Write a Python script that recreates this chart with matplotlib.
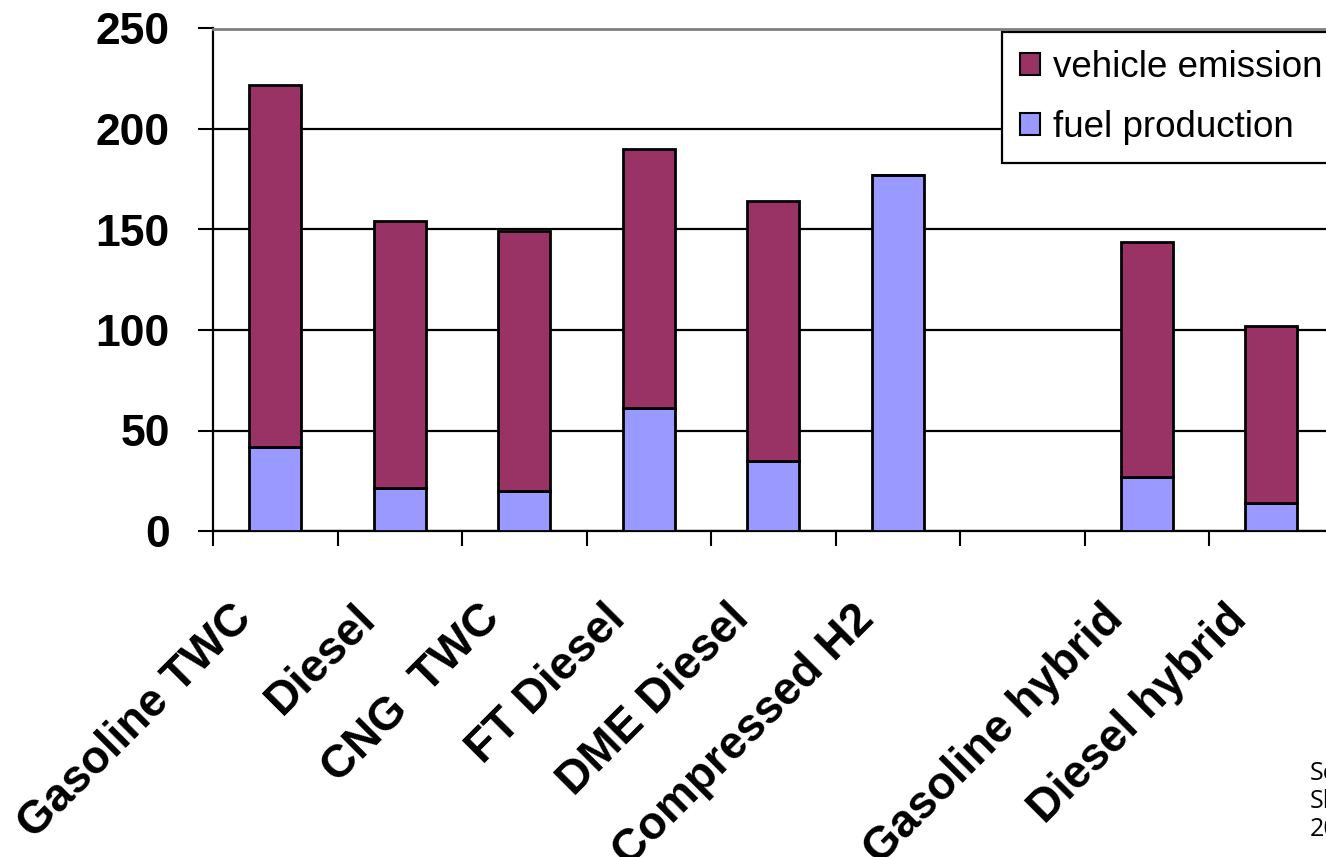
import matplotlib
matplotlib.use("Agg")
import matplotlib.pyplot as plt
import matplotlib.patches as mpatches
from matplotlib.transforms import ScaledTranslation
import numpy as np

# data
categories = ["Gasoline TWC", "Diesel", "CNG  TWC", "FT Diesel", "DME Diesel",
              "Compressed H2", "", "Gasoline hybrid", "Diesel hybrid"]
fuel_production = [42, 21.5, 20, 61, 35, 177, 0, 27, 14]
vehicle_emissions = [180, 132.5, 129.5, 129, 129, 0, 0, 117, 88]
yticks = [0, 50, 100, 150, 200, 250]
source_lines = ["So", "Sh", "20"]  # only this much of the note is visible in the original

c_vehicle = "#993366"
c_fuel = "#9999FF"

W, H = 1326, 857
fig = plt.figure(figsize=(W / 100, H / 100), dpi=100)
ax = fig.add_axes([213 / W, 1 - 531 / H, 1120.5 / W, (531 - 28.5) / H])

x = np.arange(len(categories))
ax.bar(x, fuel_production, width=0.42, color=c_fuel, edgecolor="black", linewidth=2, zorder=3)
ax.bar(x, vehicle_emissions, width=0.42, bottom=fuel_production, color=c_vehicle,
       edgecolor="black", linewidth=2, zorder=3)

ax.set_xlim(-0.5, len(categories) - 0.5)
ax.set_ylim(0, 250)

# y axis
ax.set_yticks(yticks)
ax.set_yticklabels([str(v) for v in yticks], fontsize=32, fontweight="bold", family="Liberation Sans")
ax.tick_params(axis="y", length=11, width=1.5, pad=20, direction="out")
ax.yaxis.grid(True, color="black", linewidth=1.6)
ax.set_axisbelow(True)

# x axis: boundary tick marks, labels at category centres
ax.set_xticks(x)
ax.set_xticks(np.arange(len(categories) + 1) - 0.5, minor=True)
ax.tick_params(axis="x", which="major", length=0, pad=66)
ax.tick_params(axis="x", which="minor", length=11, width=1.5, direction="out")
ax.set_xticklabels(categories, fontsize=33, fontweight="bold", family="Liberation Sans",
                   rotation=45, ha="right", va="baseline", rotation_mode="anchor")
shift = ScaledTranslation(-22 / 100, 2 / 100, fig.dpi_scale_trans)
for lab in ax.get_xticklabels():
    lab.set_transform(lab.get_transform() + shift)

for s in ["left", "bottom"]:
    ax.spines[s].set_linewidth(1.6)
    ax.spines[s].set_color("black")
ax.spines["top"].set_color("#808080")
ax.spines["top"].set_linewidth(2)
ax.spines["right"].set_visible(False)

# legend
handles = [mpatches.Patch(facecolor=c_vehicle, edgecolor="black", linewidth=1.5),
           mpatches.Patch(facecolor=c_fuel, edgecolor="black", linewidth=1.5)]
leg = fig.legend(handles, ["vehicle emission", "fuel production"],
                 loc="upper left", bbox_to_anchor=(1002 / W, 1 - 32 / H),
                 prop={"family": "Liberation Sans", "size": 26.5},
                 handlelength=0.54, handleheight=0.54, handletextpad=0.35,
                 borderpad=0.5, labelspacing=0.66, borderaxespad=0,
                 fancybox=False, framealpha=1, edgecolor="black")
leg.get_frame().set_linewidth(1.6)

# source note, cut off at the right edge like the original
for line, yy in zip(source_lines, [773, 802, 830]):
    fig.text(1310 / W, 1 - yy / H, line, fontsize=18, family="Open Sans",
             va="center", ha="left")

fig.savefig("out.png", dpi=100)
